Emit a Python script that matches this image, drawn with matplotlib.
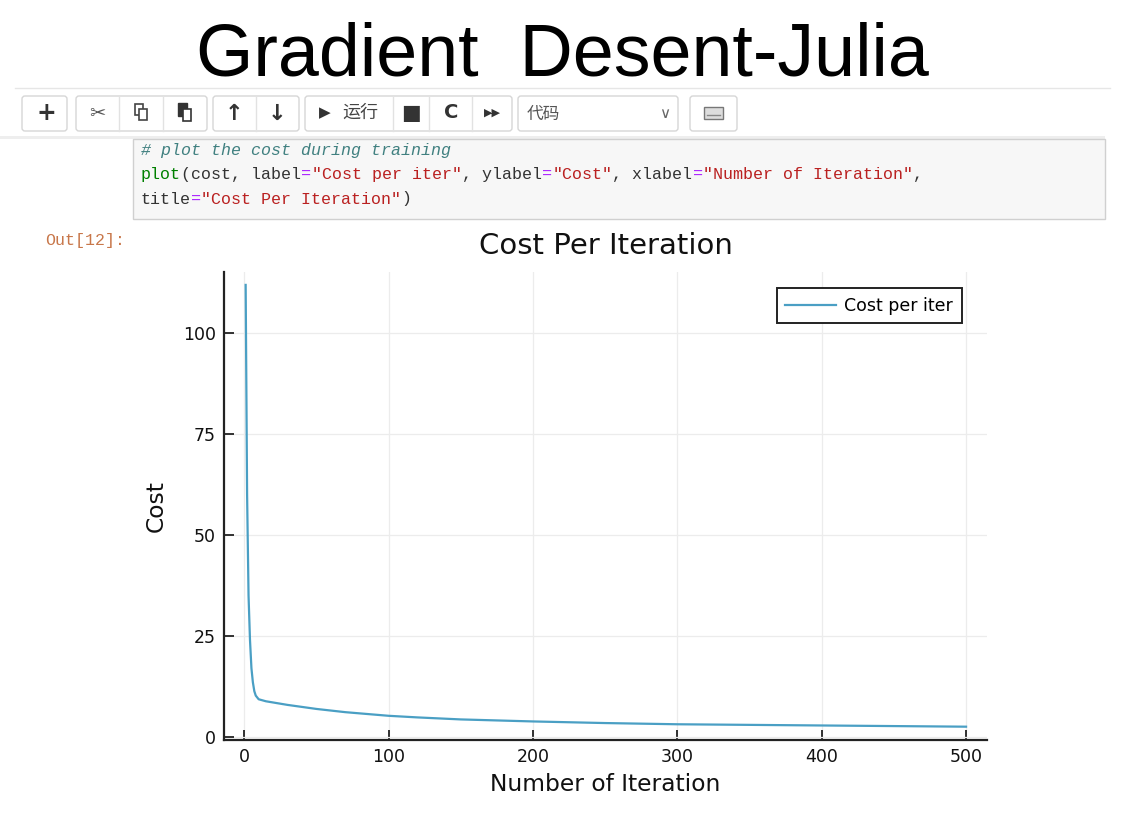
import numpy as np
import matplotlib
matplotlib.use('Agg')
import matplotlib.pyplot as plt
from matplotlib.patches import Rectangle, FancyBboxPatch

# ---- data ----
iters = [1, 2, 3, 4, 5, 6, 7, 8, 10, 15, 20, 30, 40, 50, 60, 70, 80,
         100, 120, 150, 200, 250, 300, 350, 400, 450, 500]
cost = [112.0, 60.0, 35.0, 24.0, 17.0, 13.5, 11.3, 10.2, 9.3, 8.8, 8.5,
        7.9, 7.4, 6.9, 6.5, 6.1, 5.8, 5.2, 4.8, 4.3, 3.8, 3.4, 3.1,
        2.95, 2.8, 2.65, 2.5]
xticks = [0, 100, 200, 300, 400, 500]
yticks = [0, 25, 50, 75, 100]

code_lines = [
    [("# plot the cost during training", '#408080', 'italic')],
    [("plot", '#008000', 'normal'), ("(cost, label", '#333333', 'normal'),
     ("=", '#AA22FF', 'normal'), ('"Cost per iter"', '#BA2121', 'normal'),
     (", ylabel", '#333333', 'normal'), ("=", '#AA22FF', 'normal'),
     ('"Cost"', '#BA2121', 'normal'), (", xlabel", '#333333', 'normal'),
     ("=", '#AA22FF', 'normal'), ('"Number of Iteration"', '#BA2121', 'normal'),
     (",", '#333333', 'normal')],
    [("title", '#333333', 'normal'), ("=", '#AA22FF', 'normal'),
     ('"Cost Per Iteration"', '#BA2121', 'normal'), (")", '#333333', 'normal')],
]

W, H = 1139, 827
fig = plt.figure(figsize=(W / 100, H / 100), dpi=100, facecolor='white')

# background layer in pixel coordinates
bg = fig.add_axes([0, 0, 1, 1])
bg.set_xlim(0, W)
bg.set_ylim(H, 0)
bg.axis('off')

# slide title
bg.text(562, 56, "Gradient  Desent-Julia", ha='center', va='center',
        fontsize=53, family='Liberation Sans', color='black')
bg.plot([15, 1110], [88, 88], color='#e6e6e6', lw=1)

# toolbar
def button(x0, x1, y0=96, y1=131):
    bg.add_patch(FancyBboxPatch((x0, y0), x1 - x0, y1 - y0,
                                boxstyle='round,pad=0,rounding_size=3',
                                fc='white', ec='#d6d6d6', lw=1))

button(22, 67)
button(76, 207)
bg.plot([119, 119], [96, 131], color='#e2e2e2', lw=1)
bg.plot([163, 163], [96, 131], color='#e2e2e2', lw=1)
button(213, 299)
bg.plot([256, 256], [96, 131], color='#e2e2e2', lw=1)
button(305, 512)
for xs in (393, 429, 472):
    bg.plot([xs, xs], [96, 131], color='#e2e2e2', lw=1)
button(518, 678)
button(690, 737)

tb = dict(ha='center', va='center', color='#333333')
bg.text(46, 113, "+", fontsize=17, fontweight='bold', **tb)
bg.text(97, 113, "\u2702", fontsize=14, color='#555555', ha='center', va='center')
# copy icon
bg.add_patch(Rectangle((135, 104), 8, 11, fc='white', ec='#444444', lw=1.2))
bg.add_patch(Rectangle((139, 109), 8, 11, fc='white', ec='#444444', lw=1.2))
# paste icon
bg.add_patch(Rectangle((178, 103), 9, 13, fc='#333333', ec='#333333', lw=1))
bg.add_patch(Rectangle((183, 109), 8, 12, fc='white', ec='#333333', lw=1.2))
bg.text(234, 114, "\u2191", fontsize=16, fontweight='bold', **tb)
bg.text(277, 114, "\u2193", fontsize=16, fontweight='bold', **tb)
bg.text(325, 113, "\u25B6", fontsize=11, **tb)
bg.text(360, 113, "运行", fontsize=13, family=['Noto Sans CJK SC', 'DejaVu Sans'],
        ha='center', va='center', color='#444444')
bg.text(411, 113, "\u25A0", fontsize=15, **tb)
bg.text(451, 113, "C", fontsize=14, fontweight='bold', **tb)
bg.text(492, 113, "\u25B6\u25B6", fontsize=8, **tb)
bg.text(527, 114, "代码", fontsize=12, family=['Noto Sans CJK SC', 'DejaVu Sans'],
        ha='left', va='center', color='#555555')
bg.text(665, 113, "\u2228", fontsize=11, ha='center', va='center', color='#666666')
bg.add_patch(Rectangle((704, 107), 19, 12, fc='#dddddd', ec='#777777', lw=1))
bg.plot([707, 720], [115, 115], color='#888888', lw=1)

# code cell
bg.add_patch(Rectangle((0, 136), 1105, 3, fc='#eeeeee', ec='none'))
bg.add_patch(Rectangle((133, 139), 972, 80, fc='#f7f7f7', ec='#d0d0d0', lw=1))
cw = 10.03
for row, parts in enumerate(code_lines):
    y = 150 + row * 24.5
    col = 0
    for txt, c, st in parts:
        bg.text(141 + col * cw, y, txt, fontsize=12, family='Liberation Mono',
                color=c, style=st, ha='left', va='center')
        col += len(txt)

bg.text(45, 241, "Out[12]:", fontsize=12, family='Liberation Mono',
        color='#c8774a', ha='left', va='center')

# ---- the Julia plot ----
ax = fig.add_axes([224 / W, 87 / H, 763 / W, 468 / H])
ax.plot(iters, cost, color='#4a9fc4', lw=1.6, label='Cost per iter')
ax.set_xlim(-14.0, 514.5)
ax.set_ylim(-0.8, 115.2)
ax.set_xticks(xticks)
ax.set_yticks(yticks)
ax.grid(True, color='#ececec', lw=0.9)
ax.set_axisbelow(True)
for s in ('top', 'right'):
    ax.spines[s].set_visible(False)
for s in ('left', 'bottom'):
    ax.spines[s].set_linewidth(1.6)
    ax.spines[s].set_color('#222222')
ax.tick_params(direction='in', length=7, width=1.3, color='#222222',
               labelsize=12.5, labelcolor='#111111', pad=6)
ax.set_title("Cost Per Iteration", fontsize=21, pad=13, color='#111111')
ax.set_xlabel("Number of Iteration", fontsize=16.8, color='#111111', labelpad=5)
ax.set_ylabel("Cost", fontsize=16.8, color='#111111', labelpad=11)
leg = ax.legend(loc='upper right', bbox_to_anchor=(0.967, 0.966), borderaxespad=0,
                fontsize=12.5, fancybox=False, framealpha=1, handlelength=2.9,
                handletextpad=0.5, borderpad=0.5, edgecolor='#222222')
leg.get_frame().set_linewidth(1.4)

fig.savefig('out.png', dpi=100, facecolor='white')
